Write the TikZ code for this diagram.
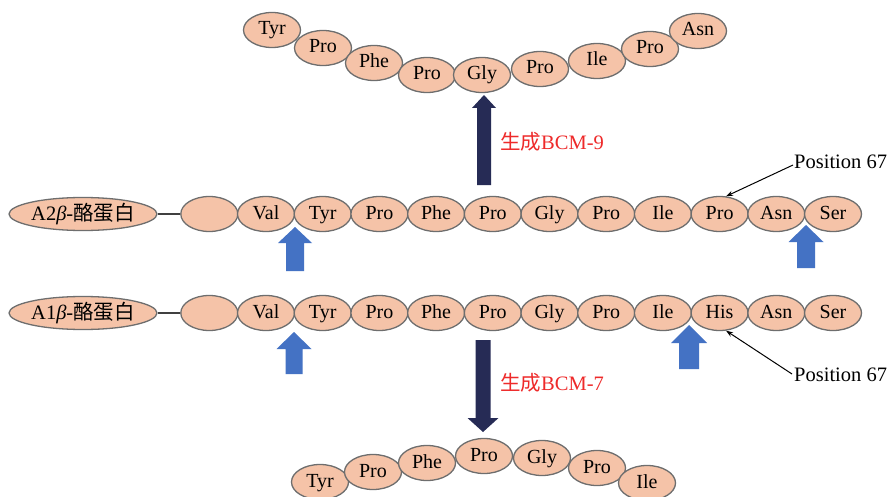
\documentclass[tikz,border=0pt]{standalone}
\usepackage{fontspec}
\setmainfont{Liberation Serif}
\newfontfamily\cjk{Noto Sans CJK SC}
\usetikzlibrary{shapes.geometric,arrows.meta}
\definecolor{peach}{HTML}{F5C3A8}
\definecolor{edgegray}{HTML}{6E6E6E}
\definecolor{blockblue}{HTML}{4472C4}
\definecolor{navy}{HTML}{262B55}
\definecolor{labred}{HTML}{EE2A2A}
\newcommand\blkarrow[7]{\fill[#7] (#1-#6,#4) -- (#1-#6,#3) -- (#1-#5,#3) -- (#1,#2) -- (#1+#5,#3) -- (#1+#6,#3) -- (#1+#6,#4) -- cycle;}
\begin{document}
\begin{tikzpicture}[x=1pt,y=-1pt,
  aa/.style={ellipse,draw=edgegray,line width=1.3pt,fill=peach,minimum width=57pt,minimum height=35pt,inner sep=0pt,font=\fontsize{20}{20}\selectfont,text height=13pt,text depth=3pt},
  lab/.style={ellipse,draw=edgegray,line width=1.3pt,fill=peach,minimum width=148pt,minimum height=33pt,inner xsep=-14pt,inner ysep=0pt,font=\fontsize{20.5}{20.5}\selectfont},
  linkline/.style={draw=black!75,line width=1.5pt},
  poslab/.style={anchor=west,inner sep=0pt,font=\fontsize{20.5}{20.5}\selectfont},
  posarrow/.style={draw=black,line width=1pt,-{Stealth[length=7pt,width=5pt]}},
  redlab/.style={anchor=west,inner sep=0pt,text=labred,font=\fontsize{20.5}{20.5}\selectfont}]
\useasboundingbox (0,0) rectangle (890,497);
\fill[white] (0,0) rectangle (890,497);

% block arrows
\blkarrow{484}{95}{108}{185}{12}{7}{navy}
\blkarrow{483}{432}{418}{340}{15.5}{7.5}{navy}
\blkarrow{295}{227}{243}{271}{17}{9}{blockblue}
\blkarrow{806}{225}{242}{268}{17.5}{9}{blockblue}
\blkarrow{294}{332}{349}{374}{17.5}{8.5}{blockblue}
\blkarrow{689}{325}{343}{369}{18}{10}{blockblue}

% A2 row
\node[lab] (l2) at (83,214) {A2\textit{β}-{\cjk 酪蛋白}};
\node[aa] (u0) at (209.3,214) {};
\foreach \n [count=\i] in {Val,Tyr,Pro,Phe,Pro,Gly,Pro,Ile,Pro,Asn,Ser}
  \node[aa] (u\i) at ({209.3+56.7*\i},214) {\n};
\draw[linkline] (l2.east) -- (u0.west);

% A1 row
\node[lab] (l1) at (83,313) {A1\textit{β}-{\cjk 酪蛋白}};
\node[aa] (d0) at (209.3,313) {};
\foreach \n [count=\i] in {Val,Tyr,Pro,Phe,Pro,Gly,Pro,Ile,His,Asn,Ser}
  \node[aa] (d\i) at ({209.3+56.7*\i},313) {\n};
\draw[linkline] (l1.east) -- (d0.west);

% BCM-9 chain
\node[aa] (t1) at (272,30) {Tyr};
\node[aa] (t2) at (323,48) {Pro};
\node[aa] (t3) at (374,63) {Phe};
\node[aa] (t4) at (427,75) {Pro};
\node[aa] (t5) at (482,75) {Gly};
\node[aa] (t6) at (540,69) {Pro};
\node[aa] (t7) at (597,61) {Ile};
\node[aa] (t8) at (650,49) {Pro};
\node[aa] (t9) at (698,31) {Asn};

% BCM-7 chain
\node[aa] (b1) at (320,482) {Tyr};
\node[aa] (b2) at (373,472) {Pro};
\node[aa] (b3) at (427,463) {Phe};
\node[aa] (b4) at (484,456) {Pro};
\node[aa] (b5) at (542,458) {Gly};
\node[aa] (b6) at (597,468) {Pro};
\node[aa] (b7) at (647,483) {Ile};

% labels
\node[redlab] (r9) at (500,142) {{\cjk 生成}BCM-9};
\node[redlab] (r7) at (500,383) {{\cjk 生成}BCM-7};
\node[poslab] (p1) at (794,162) {Position 67};
\node[poslab] (p2) at (794,375) {Position 67};
\coordinate (p1s) at ([shift={(-1,3)}]p1.west);
\coordinate (p2s) at ([shift={(-2,-1)}]p2.west);
\draw[posarrow] (p1s) -- (u9.70);
\draw[posarrow] (p2s) -- (d9.-70);
\end{tikzpicture}
\end{document}
